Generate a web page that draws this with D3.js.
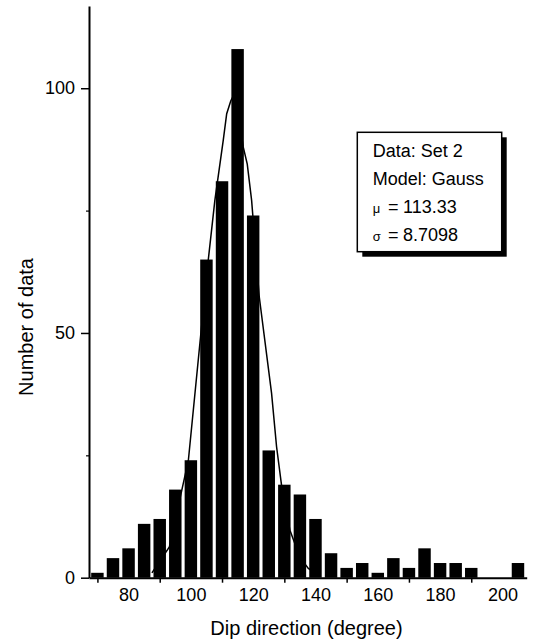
<!DOCTYPE html>
<html>
<head>
<meta charset="utf-8">
<script src="https://cdn.jsdelivr.net/npm/d3@7"></script>
<style>
  html, body { margin: 0; padding: 0; background: #fff; }
  svg { display: block; font-family: "Liberation Sans", Arial, sans-serif; }
</style>
</head>
<body>
<svg id="chart" width="537" height="641"></svg>
<script>
// ---- data ----
const binCenters = [70,75,80,85,90,95,100,105,110,115,120,125,130,135,140,145,150,155,160,165,170,175,180,185,190,195,200,205];
const counts     = [1,4,6,11,12,18,24,65,81,108,74,26,19,17,12,5,2,3,1,4,2,6,3,3,2,0,0,3];

// fitted Gauss curve
const curveX = [87.5, 93.1, 99.2, 102.9, 105.6, 107.7, 110.4, 111.5, 112.8, 113.6, 114.5, 116.8, 118.1, 119.5, 121.95, 125.9, 127.5, 129.1, 131.8, 135.0, 137.7, 139.7];
const curveY = [1.0, 6.3, 24.0, 47.9, 65.0, 77.1, 89.4, 94.8, 97.4, 98.4, 97.8, 88.0, 84.5, 77.1, 57.4, 37.7, 26.8, 18.9, 9.7, 4.2, 1.9, 1.1];

const xTickLabels = [80,100,120,140,160,180,200];
const xTickMarks  = [70,90,110,130,150,170,190];
const yTickLabels = [0,50,100];
const yMinorTicks = [25,75];

const legendLines = [
  {sym: null, text: "Data: Set 2"},
  {sym: null, text: "Model: Gauss"},
  {sym: "\u03bc", text: "113.33"},
  {sym: "\u03c3", text: "8.7098"}
];
const xTitle = "Dip direction (degree)";
const yTitle = "Number of data";

// ---- layout ----
const svg = d3.select("#chart");
const x = d3.scaleLinear().domain([67.3, 207.8]).range([89, 526.7]);
const y = d3.scaleLinear().domain([0, 116.8]).range([577.7, 6]);

// bars
const bw = (x(5) - x(0)) * 0.8;
svg.append("g").selectAll("rect")
  .data(binCenters.map((c, i) => ({c, v: counts[i]})).filter(d => d.v > 0))
  .join("rect")
  .attr("x", d => x(d.c) - bw / 2)
  .attr("y", d => y(d.v))
  .attr("width", bw)
  .attr("height", d => y(0) - y(d.v))
  .attr("fill", "#000");

// gauss curve
const line = d3.line().x(d => x(d[0])).y(d => y(d[1])).curve(d3.curveLinear);
svg.append("path")
  .attr("d", line(curveX.map((v, i) => [v, curveY[i]])))
  .attr("fill", "none").attr("stroke", "#000").attr("stroke-width", 1.5);

// x axis: tick marks
const gx = svg.append("g").attr("transform", `translate(0,${y(0)})`);
gx.call(d3.axisBottom(x).tickValues(xTickMarks).tickSize(5).tickSizeOuter(0).tickFormat(""));
gx.select(".domain").attr("stroke-width", 2);
gx.selectAll(".tick line").attr("stroke-width", 1.5);
// x axis: labels
const gxl = svg.append("g").attr("transform", `translate(0,${y(0)})`);
gxl.call(d3.axisBottom(x).tickValues(xTickLabels).tickSize(0).tickPadding(11));
gxl.select(".domain").remove();
gxl.selectAll("text").attr("font-size", 18).attr("font-family", "Liberation Sans, Arial, sans-serif");

// y axis
const gy = svg.append("g").attr("transform", `translate(${x(67.3)},0)`);
gy.call(d3.axisLeft(y).tickValues(yTickLabels).tickSize(8).tickPadding(6).tickSizeOuter(0));
gy.select(".domain").attr("stroke-width", 2);
gy.selectAll(".tick line").attr("stroke-width", 1.5);
gy.selectAll("text").attr("font-size", 18).attr("font-family", "Liberation Sans, Arial, sans-serif");
const gym = svg.append("g").attr("transform", `translate(${x(67.3)},0)`);
gym.call(d3.axisLeft(y).tickValues(yMinorTicks).tickSize(3).tickFormat(""));
gym.select(".domain").remove();
gym.selectAll(".tick line").attr("stroke-width", 1.2);

// axis titles
svg.append("text")
  .attr("x", 306.5).attr("y", 635)
  .attr("text-anchor", "middle").attr("font-size", 20)
  .text(xTitle);
svg.append("text")
  .attr("transform", "translate(33,327) rotate(-90)")
  .attr("text-anchor", "middle").attr("font-size", 20)
  .text(yTitle);

// legend box with shadow
const lg = svg.append("g");
lg.append("rect").attr("x", 362.3).attr("y", 137.3).attr("width", 144.4).attr("height", 119.4).attr("fill", "#000");
lg.append("rect").attr("x", 357.3).attr("y", 132.3).attr("width", 144.4).attr("height", 119.4)
  .attr("fill", "#fff").attr("stroke", "#000").attr("stroke-width", 1.5);
legendLines.forEach((d, i) => {
  const by = 157 + i * 28;
  if (d.sym === null) {
    lg.append("text").attr("x", 372.7).attr("y", by).attr("font-size", 18).text(d.text);
  } else {
    lg.append("text").attr("x", 372.7).attr("y", by).attr("font-size", 13).text(d.sym);
    lg.append("text").attr("x", 388).attr("y", by).attr("font-size", 18).text("=");
    lg.append("text").attr("x", 403).attr("y", by).attr("font-size", 18).text(d.text);
  }
});
</script>
</body>
</html>
